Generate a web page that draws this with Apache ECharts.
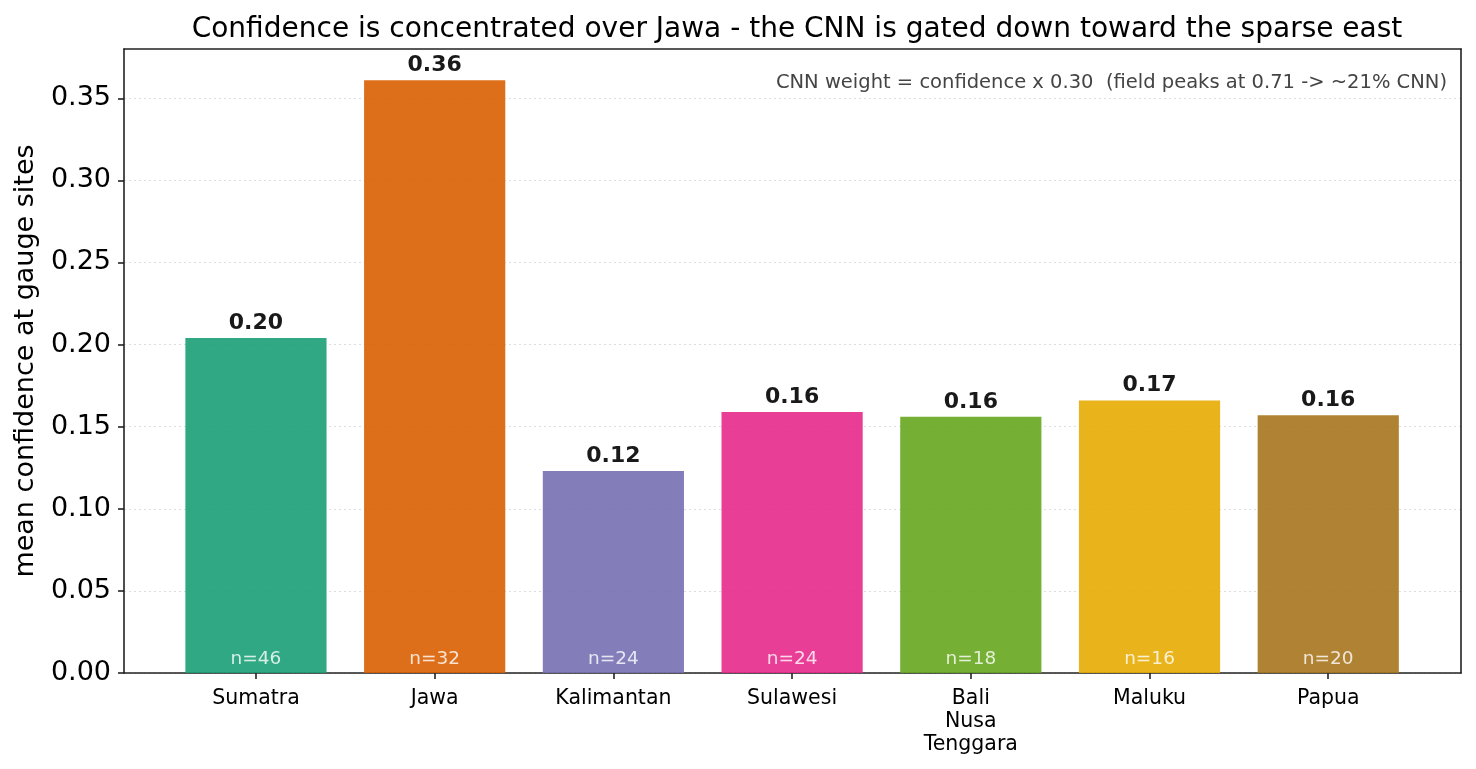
<!DOCTYPE html>
<html>
<head>
<meta charset="utf-8">
<script src="https://cdn.jsdelivr.net/npm/echarts@6/dist/echarts.min.js"></script>
<style>
  html, body { margin: 0; padding: 0; background: #fff; }
  #chart { width: 1476px; height: 769px; }
</style>
</head>
<body>
<div id="chart"></div>
<script>
var regions = ['Sumatra', 'Jawa', 'Kalimantan', 'Sulawesi', 'Bali\nNusa\nTenggara', 'Maluku', 'Papua'];
var confidence = [0.204, 0.361, 0.123, 0.159, 0.156, 0.166, 0.157];
var siteCounts = [46, 32, 24, 24, 18, 16, 20];
var barColors = ['#1b9e77', '#d95f02', '#7570b3', '#e7298a', '#66a61e', '#e6ab02', '#a6761d'];
var yTicks = [0, 0.05, 0.10, 0.15, 0.20, 0.25, 0.30, 0.35];

var font = 'DejaVu Sans';
var yMax = 0.38;
var frameLine = { show: true, onZero: false, lineStyle: { color: '#222', width: 1.6 } };

var chart = echarts.init(document.getElementById('chart'));

var option = {
  backgroundColor: '#fff',
  animation: false,
  textStyle: { fontFamily: font },
  title: {
    text: 'Confidence is concentrated over Jawa - the CNN is gated down toward the sparse east',
    left: 792, top: 11, textAlign: 'center',
    textStyle: { fontFamily: font, fontSize: 28, fontWeight: 'normal', color: '#000' }
  },
  graphic: [{
    type: 'text',
    right: 29, top: 73,
    style: {
      text: 'CNN weight = confidence x 0.30  (field peaks at 0.71 -> ~21% CNN)',
      font: '19.5px DejaVu Sans', fill: '#444'
    }
  }],
  grid: [
    { left: 124, right: 15, top: 49, bottom: 96 },
    { left: 166.6, right: 58.4, top: 49, bottom: 96 }
  ],
  xAxis: [
    { gridIndex: 0, type: 'value', min: 0, max: 1, position: 'bottom', axisLine: frameLine,
      axisTick: { show: false }, axisLabel: { show: false }, splitLine: { show: false } },
    { gridIndex: 0, type: 'value', min: 0, max: 1, position: 'top', axisLine: frameLine,
      axisTick: { show: false }, axisLabel: { show: false }, splitLine: { show: false } },
    {
      gridIndex: 1, type: 'category', data: regions,
      axisLine: { show: false },
      axisTick: { show: true, alignWithLabel: true, length: 6, lineStyle: { color: '#222', width: 1.6 } },
      axisLabel: { fontFamily: font, fontSize: 20.5, color: '#000', margin: 14, lineHeight: 23 }
    }
  ],
  yAxis: [
    {
      gridIndex: 0, type: 'value', min: 0, max: yMax, interval: 0.05, position: 'left',
      name: 'mean confidence at gauge sites', nameLocation: 'middle', nameGap: 82,
      nameTextStyle: { fontFamily: font, fontSize: 27, color: '#000' },
      axisLine: frameLine,
      axisTick: { show: true, customValues: yTicks, length: 6, lineStyle: { color: '#222', width: 1.6 } },
      axisLabel: {
        fontFamily: font, fontSize: 27, color: '#000', margin: 13, customValues: yTicks,
        formatter: function (v) { return v.toFixed(2); }
      },
      splitLine: { show: true, lineStyle: { color: '#ddd', type: [2, 3], width: 1 } }
    },
    { gridIndex: 0, type: 'value', min: 0, max: yMax, position: 'right', axisLine: frameLine,
      axisTick: { show: false }, axisLabel: { show: false }, splitLine: { show: false } },
    { gridIndex: 1, type: 'value', min: 0, max: yMax, show: false }
  ],
  series: [
    {
      type: 'bar',
      xAxisIndex: 2, yAxisIndex: 2,
      barWidth: '79%',
      data: confidence.map(function (v, i) {
        return { value: v, itemStyle: { color: barColors[i], opacity: 0.9 } };
      }),
      label: {
        show: true, position: 'top', distance: 4,
        fontFamily: font, fontSize: 22, fontWeight: 'bold', color: '#000',
        formatter: function (p) { return p.value.toFixed(2); }
      }
    },
    {
      type: 'scatter',
      xAxisIndex: 2, yAxisIndex: 2,
      symbolSize: 1,
      itemStyle: { color: 'rgba(0,0,0,0)' },
      data: siteCounts.map(function (n, i) { return [i, 0, n]; }),
      label: {
        show: true, position: 'top', distance: 4,
        fontFamily: font, fontSize: 18.5, color: '#fff',
        formatter: function (p) { return 'n=' + p.value[2]; }
      },
      z: 5
    }
  ]
};

chart.setOption(option);
</script>
</body>
</html>
